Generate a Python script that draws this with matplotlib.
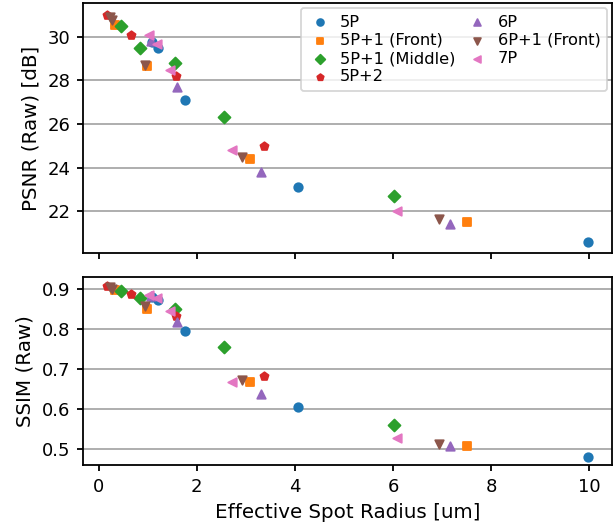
import matplotlib
matplotlib.use('Agg')
import matplotlib.pyplot as plt

# spot radius / PSNR / SSIM per lens design
labels = ['5P', '5P+1 (Front)', '5P+1 (Middle)', '5P+2', '6P', '6P+1 (Front)', '7P']
markers = ['o', 's', 'D', 'p', '^', 'v', '<']

radius = [
    [1.08, 1.20, 1.75, 4.07, 9.97],
    [0.33, 0.99, 3.08, 7.51],
    [0.46, 0.84, 1.56, 2.56, 6.02],
    [0.17, 0.65, 1.57, 3.37],
    [1.07, 1.60, 3.31, 7.16],
    [0.22, 0.28, 0.95, 2.92, 6.94],
    [1.02, 1.18, 1.45, 2.71, 6.07],
]
psnr = [
    [29.75, 29.49, 27.10, 23.11, 20.60],
    [30.52, 28.67, 24.41, 21.52],
    [30.49, 29.48, 28.80, 26.31, 22.70],
    [31.01, 30.09, 28.20, 25.00],
    [29.82, 27.68, 23.80, 21.42],
    [30.90, 30.75, 28.70, 24.51, 21.65],
    [30.08, 29.65, 28.47, 24.79, 22.02],
]
ssim = [
    [0.879, 0.871, 0.794, 0.604, 0.480],
    [0.898, 0.850, 0.666, 0.507],
    [0.894, 0.876, 0.849, 0.755, 0.558],
    [0.907, 0.888, 0.832, 0.683],
    [0.882, 0.818, 0.637, 0.507],
    [0.905, 0.900, 0.857, 0.672, 0.512],
    [0.885, 0.876, 0.844, 0.667, 0.527],
]

dpi = 130
fig, (ax1, ax2) = plt.subplots(2, 1, sharex=True, figsize=(615 / dpi, 531 / dpi), dpi=dpi,
                               gridspec_kw={'height_ratios': [4, 3]})
fig.subplots_adjust(left=0.135, right=0.995, top=0.994, bottom=0.124, hspace=0.11)

for i in range(len(labels)):
    ax1.scatter(radius[i], psnr[i], marker=markers[i], s=22, label=labels[i], zorder=3)
    ax2.scatter(radius[i], ssim[i], marker=markers[i], s=22, label=labels[i], zorder=3)

for ax in (ax1, ax2):
    ax.grid(axis='y', color='#b0b0b0', linewidth=1.1)
    ax.set_axisbelow(True)
    for sp in ax.spines.values():
        sp.set_linewidth(1.0)
    ax.tick_params(width=1.0)

ax1.set_ylabel('PSNR (Raw) [dB]', fontsize=11)
ax2.set_ylabel('SSIM (Raw)', fontsize=11)
ax2.set_xlabel('Effective Spot Radius [um]', fontsize=11)
ax1.legend(ncol=2, loc='upper right', fontsize=9, labelspacing=0.2, handlelength=1.5,
           handletextpad=0.5, columnspacing=0.6, borderpad=0.4, borderaxespad=0.3,
           markerscale=0.8)

plt.savefig('out.png', dpi=dpi)
